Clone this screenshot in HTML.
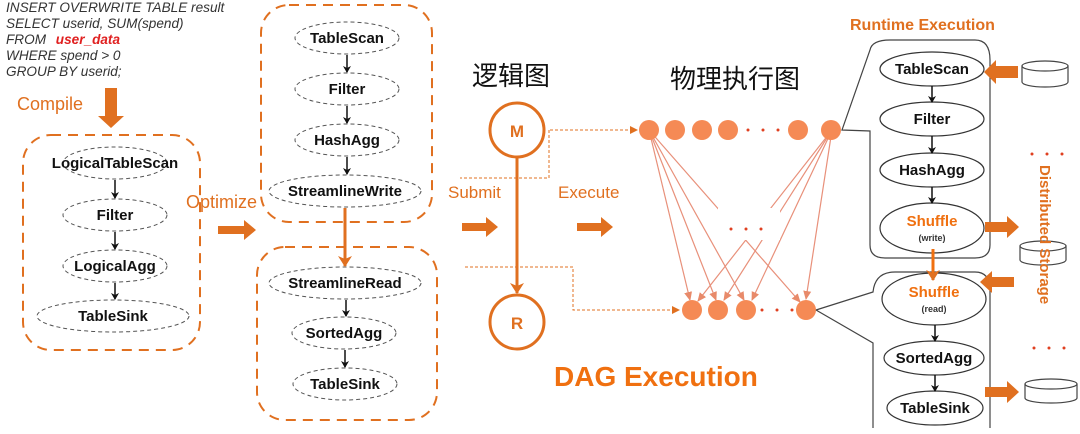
<!DOCTYPE html>
<html><head><meta charset="utf-8"><style>
html,body{margin:0;padding:0;background:#fff;}
svg{display:block;}
text{font-family:"Liberation Sans","Noto Sans CJK SC",sans-serif;}
.b{font-weight:bold;font-size:15px;fill:#111;text-anchor:middle;}
.de{fill:none;stroke:#555;stroke-width:1;stroke-dasharray:4,3;}
.se{fill:#fff;stroke:#333;stroke-width:1.2;}
.box{fill:none;stroke:#e07020;stroke-width:2;stroke-dasharray:10,7;}
</style></head><body>
<svg width="1080" height="434" viewBox="0 0 1080 434" xmlns="http://www.w3.org/2000/svg">
<defs>
<marker id="ak" markerWidth="8" markerHeight="8" refX="6" refY="4" orient="auto" markerUnits="userSpaceOnUse"><path d="M0,0 L7,4 L0,8 L2,4z" fill="#111"/></marker>
<marker id="ao" markerWidth="14" markerHeight="14" refX="10" refY="7" orient="auto" markerUnits="userSpaceOnUse"><path d="M0,0 L11,7 L0,14 L3,7z" fill="#e07020"/></marker>
<marker id="ap" markerWidth="10" markerHeight="10" refX="8" refY="5" orient="auto" markerUnits="userSpaceOnUse"><path d="M0,1 L9,5 L0,9z" fill="#e88a6a"/></marker>
<marker id="ad" markerWidth="8" markerHeight="8" refX="7" refY="4" orient="auto" markerUnits="userSpaceOnUse"><path d="M0,0 L8,4 L0,8z" fill="#e07020"/></marker>
</defs>
<g font-style="italic" font-size="13.6" fill="#333">
<text x="6" y="12">INSERT OVERWRITE TABLE result</text>
<text x="6" y="28">SELECT userid, SUM(spend)</text>
<text x="6" y="44">FROM <tspan fill="#e02020" font-weight="bold" dx="6">user_data</tspan></text>
<text x="6" y="60">WHERE spend &gt; 0</text>
<text x="6" y="76">GROUP BY userid;</text>
</g>
<text x="17" y="110" font-size="18" fill="#e07020">Compile</text>
<path d="M105,88 h12 v28 h7 l-13,12 l-13,-12 h7z" fill="#e07020"/>
<rect x="23" y="135" width="177" height="215" rx="28" class="box"/>
<ellipse cx="115" cy="163" rx="52" ry="16" class="de"/><text x="115" y="168" class="b">LogicalTableScan</text>
<ellipse cx="115" cy="215" rx="52" ry="16" class="de"/><text x="115" y="220" class="b">Filter</text>
<ellipse cx="115" cy="266" rx="52" ry="16" class="de"/><text x="115" y="271" class="b">LogicalAgg</text>
<ellipse cx="113" cy="316" rx="76" ry="16" class="de"/><text x="113" y="321" class="b">TableSink</text>
<g stroke="#111" stroke-width="1.5" marker-end="url(#ak)">
<line x1="115" y1="180" x2="115" y2="198"/><line x1="115" y1="232" x2="115" y2="249"/><line x1="115" y1="283" x2="115" y2="299"/>
</g>
<text x="186" y="208" font-size="18" fill="#e07020">Optimize</text>
<path d="M218,226 h26 v-6 l12,10 l-12,10 v-6 h-26z" fill="#e07020"/>
<rect x="261" y="5" width="171" height="217" rx="28" class="box"/>
<ellipse cx="347" cy="38" rx="52" ry="16" class="de"/><text x="347" y="43" class="b">TableScan</text>
<ellipse cx="347" cy="89" rx="52" ry="16" class="de"/><text x="347" y="94" class="b">Filter</text>
<ellipse cx="347" cy="140" rx="52" ry="16" class="de"/><text x="347" y="145" class="b">HashAgg</text>
<ellipse cx="345" cy="191" rx="76" ry="16" class="de"/><text x="345" y="196" class="b">StreamlineWrite</text>
<g stroke="#111" stroke-width="1.5" marker-end="url(#ak)">
<line x1="347" y1="55" x2="347" y2="72"/><line x1="347" y1="106" x2="347" y2="123"/><line x1="347" y1="157" x2="347" y2="174"/>
<line x1="346" y1="300" x2="346" y2="316"/><line x1="345" y1="350" x2="345" y2="367"/>
</g>
<rect x="257" y="247" width="180" height="173" rx="28" class="box"/>
<ellipse cx="345" cy="283" rx="76" ry="16" class="de"/><text x="345" y="288" class="b">StreamlineRead</text>
<ellipse cx="344" cy="333" rx="52" ry="16" class="de"/><text x="344" y="338" class="b">SortedAgg</text>
<ellipse cx="345" cy="384" rx="52" ry="16" class="de"/><text x="345" y="389" class="b">TableSink</text>
<line x1="345" y1="208" x2="345" y2="266" stroke="#e07020" stroke-width="3" marker-end="url(#ao)"/>
<text x="472" y="85" font-size="26" fill="#111">逻辑图</text>
<circle cx="517" cy="130" r="27" fill="#fff" stroke="#e07020" stroke-width="3"/>
<text x="517" y="137" font-size="17" font-weight="bold" fill="#e07020" text-anchor="middle">M</text>
<circle cx="517" cy="322" r="27" fill="#fff" stroke="#e07020" stroke-width="3"/>
<text x="517" y="329" font-size="17" font-weight="bold" fill="#e07020" text-anchor="middle">R</text>
<line x1="517" y1="158" x2="517" y2="293" stroke="#e07020" stroke-width="3" marker-end="url(#ao)"/>
<g fill="none" stroke="#e07020" stroke-width="1" stroke-dasharray="3,2">
<path d="M550,130 H637" marker-end="url(#ad)"/>
<path d="M549,130 V178 H460"/>
<path d="M465,267 H573 V310 H679" marker-end="url(#ad)"/>
</g>
<text x="448" y="198" font-size="17" fill="#e07020">Submit</text>
<text x="558" y="198" font-size="17" fill="#e07020">Execute</text>
<path d="M462,223 h24 v-6 l12,10 l-12,10 v-6 h-24z" fill="#e07020"/>
<path d="M577,223 h24 v-6 l12,10 l-12,10 v-6 h-24z" fill="#e07020"/>
<text x="670" y="88" font-size="26" fill="#111">物理执行图</text>
<g stroke="#e8907a" stroke-width="1.2" marker-end="url(#ap)">
<line x1="649" y1="130" x2="690" y2="300"/><line x1="649" y1="130" x2="716" y2="300"/><line x1="649" y1="130" x2="744" y2="300"/><line x1="649" y1="130" x2="800" y2="302"/>
<line x1="832" y1="130" x2="806" y2="299"/><line x1="832" y1="130" x2="752" y2="300"/><line x1="832" y1="130" x2="724" y2="300"/><line x1="832" y1="130" x2="698" y2="301"/>
</g>
<rect x="718" y="208" width="62" height="32" fill="#fff"/>
<g fill="#e04020"><circle cx="731" cy="229" r="1.5"/><circle cx="746" cy="229" r="1.5"/><circle cx="761" cy="229" r="1.5"/>
<circle cx="748" cy="130" r="1.5"/><circle cx="763" cy="130" r="1.5"/><circle cx="778" cy="130" r="1.5"/>
<circle cx="762" cy="310" r="1.5"/><circle cx="777" cy="310" r="1.5"/><circle cx="792" cy="310" r="1.5"/></g>
<g fill="#f58a55">
<circle cx="649" cy="130" r="10"/><circle cx="675" cy="130" r="10"/><circle cx="702" cy="130" r="10"/><circle cx="728" cy="130" r="10"/><circle cx="798" cy="130" r="10"/><circle cx="831" cy="130" r="10"/>
<circle cx="692" cy="310" r="10"/><circle cx="718" cy="310" r="10"/><circle cx="746" cy="310" r="10"/><circle cx="806" cy="310" r="10"/>
</g>
<text x="554" y="386" font-size="28" font-weight="bold" fill="#f07010">DAG Execution</text>
<text x="850" y="30" font-size="16" font-weight="bold" fill="#e07020">Runtime Execution</text>
<path d="M842,130 L870,50 Q872,40 890,40 H975 Q990,40 990,60 V245 Q990,258 975,258 H885 Q870,258 870,245 V131 Z" fill="none" stroke="#444" stroke-width="1.2"/>
<path d="M816,310 L873,292 Q875,272 895,272 H975 Q990,272 990,290 V428 M816,310 L873,343 V428" fill="none" stroke="#444" stroke-width="1.2"/>
<ellipse cx="932" cy="69" rx="52" ry="17" class="se"/><text x="932" y="74" class="b">TableScan</text>
<ellipse cx="932" cy="119" rx="52" ry="17" class="se"/><text x="932" y="124" class="b">Filter</text>
<ellipse cx="932" cy="170" rx="52" ry="17" class="se"/><text x="932" y="175" class="b">HashAgg</text>
<ellipse cx="932" cy="228" rx="52" ry="25" class="se"/><text x="932" y="226" class="b" style="fill:#f07010">Shuffle</text><text x="932" y="241" font-size="9" font-weight="bold" fill="#333" text-anchor="middle">(write)</text>
<ellipse cx="934" cy="299" rx="52" ry="26" class="se"/><text x="934" y="297" class="b" style="fill:#f07010">Shuffle</text><text x="934" y="312" font-size="9" font-weight="bold" fill="#333" text-anchor="middle">(read)</text>
<ellipse cx="934" cy="358" rx="50" ry="17" class="se"/><text x="934" y="363" class="b">SortedAgg</text>
<ellipse cx="935" cy="408" rx="48" ry="17" class="se"/><text x="935" y="413" class="b">TableSink</text>
<g stroke="#111" stroke-width="1.5" marker-end="url(#ak)">
<line x1="932" y1="86" x2="932" y2="102"/><line x1="932" y1="136" x2="932" y2="153"/><line x1="932" y1="187" x2="932" y2="203"/>
<line x1="935" y1="325" x2="935" y2="341"/><line x1="935" y1="375" x2="935" y2="391"/>
</g>
<line x1="933" y1="249" x2="933" y2="280" stroke="#f07010" stroke-width="3" marker-end="url(#ao)"/>
<path d="M1018,66 h-22 v-6 l-12,12 l12,12 v-6 h22z" fill="#e07020"/>
<path d="M985,222 h22 v-6 l12,11 l-12,11 v-6 h-22z" fill="#e07020"/>
<path d="M1014,277 h-22 v-6 l-12,11 l12,11 v-6 h22z" fill="#e07020"/>
<path d="M985,387 h22 v-6 l12,11 l-12,11 v-6 h-22z" fill="#e07020"/>
<g fill="#fff" stroke="#444" stroke-width="1.2">
<path d="M1022,66 v16 a23,5 0 0 0 46,0 v-16"/><ellipse cx="1045" cy="66" rx="23" ry="5"/>
<path d="M1020,246 v14 a23,5 0 0 0 46,0 v-14"/><ellipse cx="1043" cy="246" rx="23" ry="5"/>
<path d="M1025,384 v14 a26,5 0 0 0 52,0 v-14"/><ellipse cx="1051" cy="384" rx="26" ry="5"/>
</g>
<text transform="translate(1040,165) rotate(90)" font-size="15" font-weight="bold" fill="#e07020">Distributed Storage</text>
<g fill="#e04020"><circle cx="1032" cy="154" r="1.5"/><circle cx="1047" cy="154" r="1.5"/><circle cx="1062" cy="154" r="1.5"/>
<circle cx="1034" cy="348" r="1.5"/><circle cx="1049" cy="348" r="1.5"/><circle cx="1064" cy="348" r="1.5"/></g>
</svg>
</body></html>
